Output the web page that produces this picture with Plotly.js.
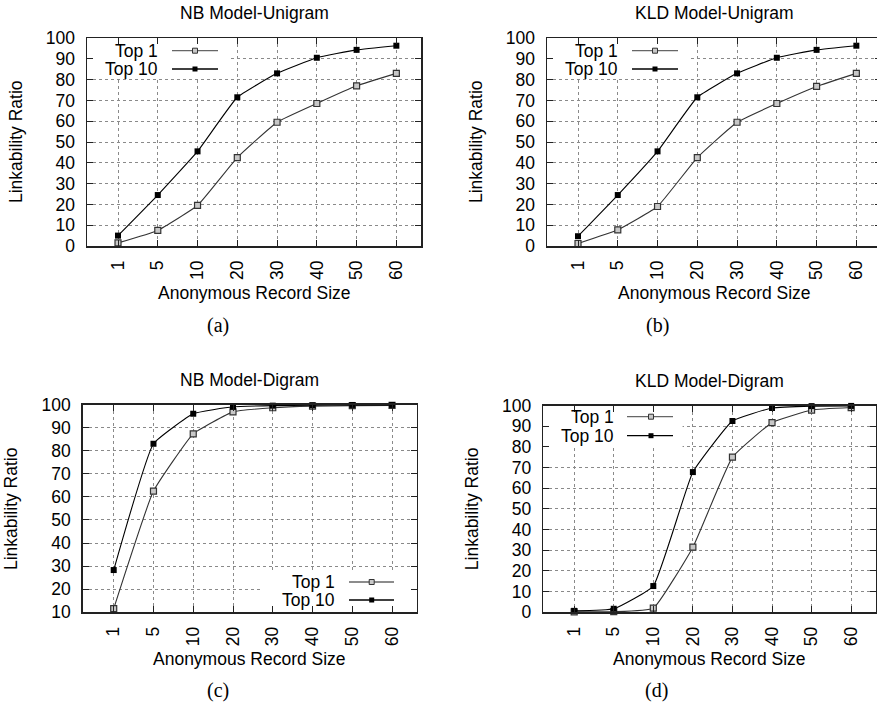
<!DOCTYPE html>
<html>
<head>
<meta charset="utf-8">
<script src="https://cdn.plot.ly/plotly-3.0.1.min.js"></script>
<style>
html,body{margin:0;padding:0;overflow:hidden;background:#fff;}
#chart{width:882px;height:707px;}
</style>
</head>
<body>
<div id="chart"></div>
<script>
// ---- data ----
const sizes = ['1','5','10','20','30','40','50','60'];
const nbUniTop1   = [1.5, 7.5, 19.5, 42.5, 59.5, 68.5, 77.0, 83.0];
const nbUniTop10  = [5.0, 24.5, 45.5, 71.5, 83.0, 90.5, 94.3, 96.3];
const kldUniTop1  = [1.2, 7.8, 19.0, 42.5, 59.5, 68.5, 76.7, 83.0];
const kldUniTop10 = [4.7, 24.5, 45.5, 71.5, 83.0, 90.5, 94.3, 96.3];
const nbDiTop1    = [11.6, 62.5, 87.3, 96.8, 98.6, 99.3, 99.5, 99.6];
const nbDiTop10   = [28.3, 83.0, 96.0, 99.0, 99.5, 99.7, 99.8, 99.8];
const kldDiTop1   = [0.2, 0.3, 2.0, 31.5, 75.0, 91.7, 97.8, 99.0];
const kldDiTop10  = [0.7, 1.7, 12.7, 67.8, 92.5, 98.8, 99.7, 99.8];
const seriesNames = ['Top 1', 'Top 10'];
const panelTitles = ['NB Model-Unigram', 'KLD Model-Unigram', 'NB Model-Digram', 'KLD Model-Digram'];
const subCaptions = ['(a)', '(b)', '(c)', '(d)'];
const xTitle = 'Anonymous Record Size';
const yTitle = 'Linkability Ratio';

// ---- layout helpers ----
const W = 882, H = 707;
const px = v => v / W;
const py = v => 1 - v / H;
const FONT = 'Liberation Sans, Arial, Helvetica, sans-serif';
const FS = 17.5;
const top1Style = {line:{color:'#333', width:1.1, shape:'spline', smoothing:0.35},
                   marker:{symbol:'square', size:6, color:'#c8c8c8', line:{color:'#333', width:1.2}}};
const top10Style = {line:{color:'#000', width:1.1, shape:'spline', smoothing:0.35},
                   marker:{symbol:'square', size:6, color:'#000', line:{color:'#000', width:0}}};

const panels = [
  {t1: nbUniTop1,  t10: nbUniTop10,  dom:[87, 421, 38, 246],   yr:[0,100],  yt:[0,10,20,30,40,50,60,70,80,90,100]},
  {t1: kldUniTop1, t10: kldUniTop10, dom:[547, 881, 38, 246],      yr:[0,100],  yt:[0,10,20,30,40,50,60,70,80,90,100]},
  {t1: nbDiTop1,   t10: nbDiTop10,   dom:[82.7, 416.7, 404.5, 612.3], yr:[10,100], yt:[10,20,30,40,50,60,70,80,90,100]},
  {t1: kldDiTop1,  t10: kldDiTop10,  dom:[543.3, 875.7, 405.5, 612.3], yr:[0,100], yt:[0,10,20,30,40,50,60,70,80,90,100]}
];
// legend geometry (pixels): text right edge, line x0,x1, marker x, row ys; white box in data coords
const legends = [
  {tx:160, l0:172, l1:218, mx:195, r1:50.7, r2:69,  box:[-0.78, 2.77, 80.8, 100]},
  {tx:620, l0:632, l1:678, mx:655, r1:50.7, r2:69,  box:[-0.78, 2.77, 80.8, 100]},
  {tx:336.7, l0:349, l1:394, mx:371.7, r1:582, r2:600, box:[3.72, 7.62, 10, 27.3]},
  {tx:616, l0:627, l1:673, mx:651, r1:416.7, r2:435.7, box:[-0.78, 2.74, 79.7, 100]}
];
const capPos = [[218, 325], [657, 325], [218, 690], [656, 690]];

const data = [];
const layout = {
  width: W, height: H, margin:{l:0,r:0,t:0,b:0},
  paper_bgcolor:'#fff', plot_bgcolor:'#fff', showlegend:false,
  font:{family:FONT, size:FS, color:'#000'},
  annotations: [], shapes: []
};

panels.forEach((p, i) => {
  const n = i === 0 ? '' : String(i + 1);
  const xa = 'x' + n, ya = 'y' + n;
  data.push(Object.assign({x: sizes, y: p.t1, xaxis: xa, yaxis: ya, type:'scatter', mode:'lines+markers',
                           name: seriesNames[0], cliponaxis:false}, JSON.parse(JSON.stringify(top1Style))));
  data.push(Object.assign({x: sizes, y: p.t10, xaxis: xa, yaxis: ya, type:'scatter', mode:'lines+markers',
                           name: seriesNames[1], cliponaxis:false}, JSON.parse(JSON.stringify(top10Style))));
  const common = {showline:true, linecolor:'#222', linewidth:1.5, mirror:'ticks', ticks:'inside', ticklen:6,
                  tickcolor:'#222', tickwidth:1, showgrid:true, gridcolor:'#8a8a8a', griddash:'dot', gridwidth:1,
                  zeroline:false, tickfont:{family:FONT, size:FS, color:'#000'}, fixedrange:true};
  layout['xaxis' + n] = Object.assign({}, common, {
    domain:[px(p.dom[0]), px(p.dom[1])], anchor: ya, type:'category', categoryorder:'array', categoryarray:sizes,
    range:[-0.78, 7.62], tickangle:-90, ticklabelstandoff:6
  });
  layout['yaxis' + n] = Object.assign({}, common, {
    domain:[py(p.dom[3]), py(p.dom[2])], anchor: xa, range:p.yr, tickvals:p.yt, ticklabelstandoff:7
  });
  const cx = (p.dom[0] + p.dom[1]) / 2, cy = (p.dom[2] + p.dom[3]) / 2;
  layout.annotations.push({xref:'paper', yref:'paper', x:px(cx), y:py(p.dom[2] - 25), text:panelTitles[i],
    showarrow:false, xanchor:'center', yanchor:'middle', font:{family:FONT, size:FS, color:'#000'}});
  layout.annotations.push({xref:'paper', yref:'paper', x:px(cx), y:py(p.dom[3] + 47), text:xTitle,
    showarrow:false, xanchor:'center', yanchor:'middle', font:{family:FONT, size:FS, color:'#000'}});
  layout.annotations.push({xref:'paper', yref:'paper', x:px(p.dom[0] - 71), y:py(cy), text:yTitle, textangle:-90,
    showarrow:false, xanchor:'center', yanchor:'middle', font:{family:FONT, size:FS, color:'#000'}});
  layout.annotations.push({xref:'paper', yref:'paper', x:px(capPos[i][0]), y:py(capPos[i][1]), text:subCaptions[i],
    showarrow:false, xanchor:'center', yanchor:'middle', font:{family:'Liberation Serif, DejaVu Serif, serif', size:20, color:'#000'}});
  // legend
  const lg = legends[i];
  layout.shapes.push({type:'rect', xref:xa, yref:ya, x0:lg.box[0], x1:lg.box[1], y0:lg.box[2], y1:lg.box[3],
    fillcolor:'#fff', line:{width:0}, layer:'between'});
  [[lg.r1, seriesNames[0], top1Style], [lg.r2, seriesNames[1], top10Style]].forEach(([ry, label, st]) => {
    layout.annotations.push({xref:'paper', yref:'paper', x:px(lg.tx), y:py(ry), text:label, showarrow:false,
      xanchor:'right', yanchor:'middle', font:{family:FONT, size:FS, color:'#000'}});
    layout.shapes.push({type:'line', xref:'paper', yref:'paper', x0:px(lg.l0), x1:px(lg.l1), y0:py(ry), y1:py(ry),
      line:{color: label === 'Top 1' ? '#666' : '#000', width:1.3}, layer:'above'});
    const s = 2.5;
    layout.shapes.push({type:'rect', xref:'paper', yref:'paper', x0:px(lg.mx - s), x1:px(lg.mx + s),
      y0:py(ry + s), y1:py(ry - s), fillcolor: st.marker.color,
      line:{color: label === 'Top 1' ? '#333' : '#000', width: label === 'Top 1' ? 1 : 0}, layer:'above'});
  });
});

Plotly.newPlot('chart', data, layout, {displayModeBar:false, staticPlot:true});
</script>
</body>
</html>
